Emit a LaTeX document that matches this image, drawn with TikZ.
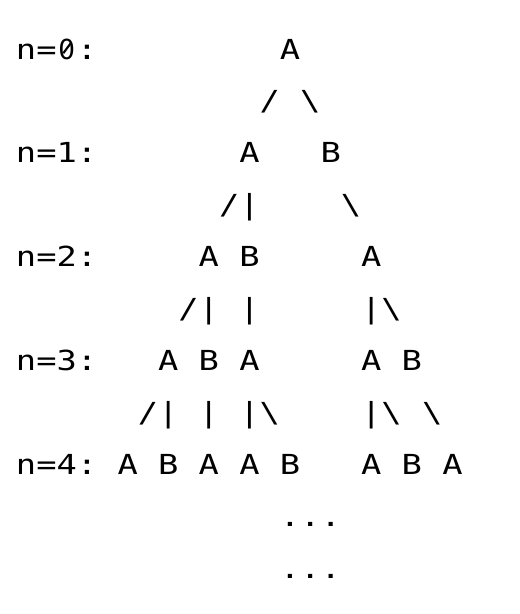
\documentclass[tikz,border=0pt]{standalone}
\usepackage{fontspec}
\usepackage{graphicx}
\newfontfamily\asciifont{DejaVu Sans Mono}
\newfontfamily\zerofont{DejaVu Sans}
\newcommand\wide[1]{\scalebox{1.222}[1]{#1}}
\newlength\monoadv
\newcommand\slzero{\makebox[\monoadv][c]{\scalebox{0.78}[1]{\zerofont 0}}}
\begin{document}
\settowidth{\monoadv}{\asciifont\fontsize{27.6}{33}\selectfont 0}
\begin{tikzpicture}[x=1pt,y=-1pt,
  txt/.style={anchor=base west, inner sep=0pt, outer sep=0pt,
              font=\asciifont\fontsize{27.6}{33}\selectfont},
  zslash/.style={line width=2.1pt}]
\useasboundingbox (0,0) rectangle (520,614);
\def\cw{20.3}
% row 0
\node[txt] (l0) at ({16+0*\cw},59.0) {\wide{n=\slzero:}};
\coordinate (zs1) at (63.3,53.2);
\coordinate (zs2) at (71.2,42.6);
\draw[zslash] (zs1) -- (zs2);
\node[txt] (r0a) at ({16+13*\cw},59.0) {\wide{A}};
% row 1
\node[txt] (e1a) at ({16+12*\cw},110.9) {\wide{/ \textbackslash}};
% row 2
\node[txt] (l1) at ({16+0*\cw},162.9) {\wide{n=1:}};
\node[txt] (r1a) at ({16+11*\cw},162.9) {\wide{A}};
\node[txt] (r1b) at ({16+15*\cw},162.9) {\wide{B}};
% row 3
\node[txt] (e2a) at ({16+10*\cw},214.8) {\wide{/|}};
\node[txt] (e2b) at ({16+16*\cw},214.8) {\wide{\textbackslash}};
% row 4
\node[txt] (l2) at ({16+0*\cw},266.7) {\wide{n=2:}};
\node[txt] (r2a) at ({16+9*\cw},266.7) {\wide{A B}};
\node[txt] (r2b) at ({16+17*\cw},266.7) {\wide{A}};
% row 5
\node[txt] (e3a) at ({16+8*\cw},318.7) {\wide{/|}};
\node[txt] (e3b) at ({16+11*\cw},318.7) {\wide{|}};
\node[txt] (e3c) at ({16+17*\cw},318.7) {\wide{|\textbackslash}};
% row 6
\node[txt] (l3) at ({16+0*\cw},370.6) {\wide{n=3:}};
\node[txt] (r3a) at ({16+7*\cw},370.6) {\wide{A B A}};
\node[txt] (r3b) at ({16+17*\cw},370.6) {\wide{A B}};
% row 7
\node[txt] (e4a) at ({16+6*\cw},422.5) {\wide{/|}};
\node[txt] (e4b) at ({16+9*\cw},422.5) {\wide{|}};
\node[txt] (e4c) at ({16+11*\cw},422.5) {\wide{|\textbackslash}};
\node[txt] (e4d) at ({16+17*\cw},422.5) {\wide{|\textbackslash}};
\node[txt] (e4e) at ({16+20*\cw},422.5) {\wide{\textbackslash}};
% row 8
\node[txt] (l4) at ({16+0*\cw},474.4) {\wide{n=4:}};
\node[txt] (r4a) at ({16+5*\cw},474.4) {\wide{A B A A B}};
\node[txt] (r4b) at ({16+17*\cw},474.4) {\wide{A B A}};
% rows 9, 10
\node[txt] (d1) at ({16+13*\cw},526.4) {\wide{...}};
\node[txt] (d2) at ({16+13*\cw},578.3) {\wide{...}};
\end{tikzpicture}
\end{document}
